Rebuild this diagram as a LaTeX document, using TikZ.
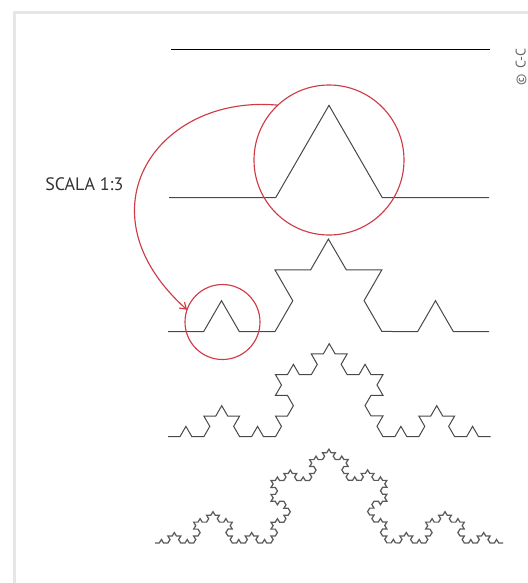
\documentclass[tikz,border=0pt]{standalone}
\usepackage{fontspec}
\setmainfont{PT Sans}
\definecolor{zoomred}{RGB}{208,58,68}
\definecolor{kochgray}{RGB}{72,72,72}
\definecolor{framegray}{RGB}{230,230,230}
\usepackage{tikz}
\usetikzlibrary{
    arrows.meta,
    decorations.fractals
}
\tikzstyle{koch} = [
    draw=kochgray,
    line width=0.75pt,
    decoration=Koch snowflake
]
\tikzstyle{zoomring} = [
    circle,
    draw=zoomred,
    line width=0.85pt,
    inner sep=0pt,
    outer sep=0pt
]
\tikzstyle{zoomarrow} = [
    -{Straight Barb[length=4.5pt, width=6pt]},
    draw=zoomred,
    line width=0.85pt
]

\begin{document}
\begin{tikzpicture}[x=0.75pt, y=-0.75pt]
        \useasboundingbox (0,0) rectangle (528,583);

        % Frame (only left and top edges show)
        \draw[framegray, line width=2.25pt] (14.5,600) -- (14.5,12.5) -- (545,12.5);

        % Step 0: the straight segment
        \draw[black, line width=1.1pt] (171,49.5) -- (490,49.5);

        % Steps 1 to 3
        \draw[koch] decorate{ (169,197.7) -- (489,197.7) };
        \draw[koch] decorate{ decorate{ (168,331.6) -- (489,331.6) } };
        \draw[koch] decorate{ decorate{ decorate{ (168,436.7) -- (490.5,436.7) } } };

        % Step 4 (slightly flattened)
        \begin{scope}[transform canvas={yshift=-407.25pt, yscale=0.935, yshift=407.25pt}]
            \draw[koch, draw=kochgray!90, line width=0.95pt]
                decorate{ decorate{ decorate{ decorate{ (155,543) -- (503,543) } } } };
        \end{scope}

        % Zoom rings and scale arrow
        \node[zoomring, minimum size=112.5pt] (bigzoom) at (329,160) {};
        \node[zoomring, minimum size=56.25pt] (smallzoom) at (222.5,322) {};
        \draw[zoomarrow] (bigzoom.133) .. controls (157,94) and (77,211) .. (smallzoom.161);

        % Labels
        \node[anchor=base west, inner sep=0pt, font=\fontsize{13.5}{16}\selectfont, text=black!80]
            (scalelabel) at (45,190) {SCALA 1:3};
        \node[anchor=base west, inner sep=0pt, rotate=90, font=\fontsize{10.5}{12}\selectfont, text=black!60]
            (copyright) at (525.5,86) {©\, C-C};
    \end{tikzpicture}
\end{document}
